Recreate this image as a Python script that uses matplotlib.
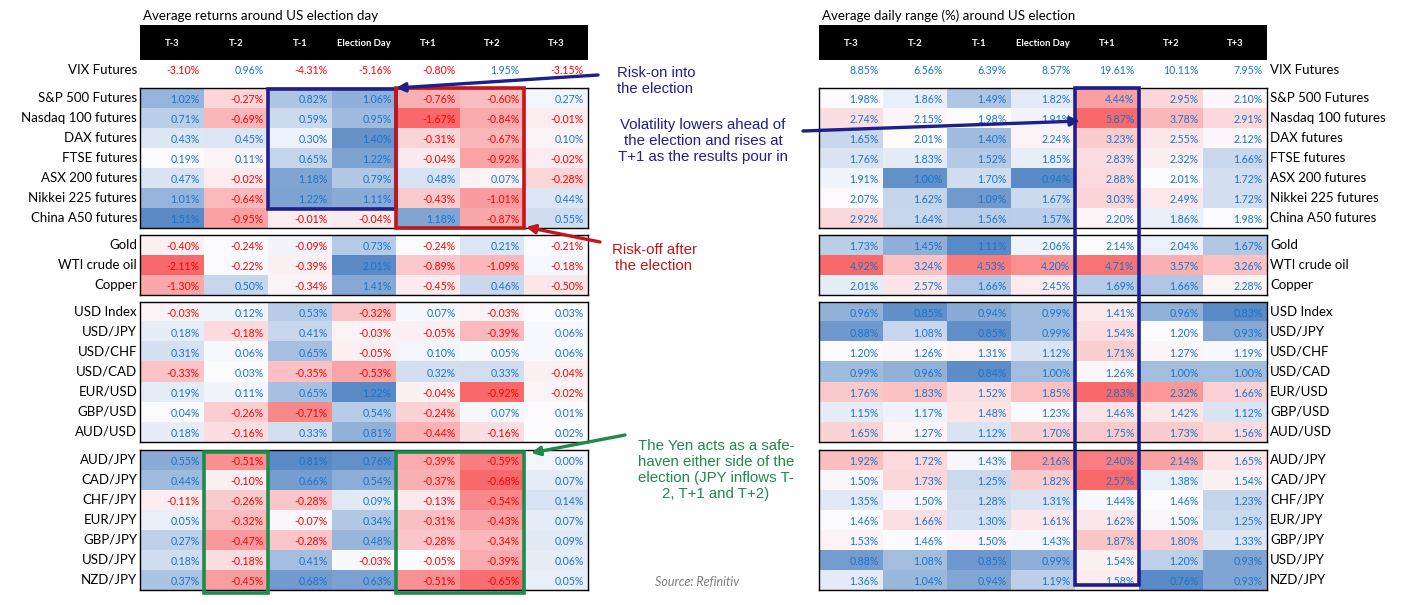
import numpy as np
import matplotlib
matplotlib.use("Agg")
import matplotlib.pyplot as plt
from matplotlib.colors import LinearSegmentedColormap, TwoSlopeNorm
from matplotlib.patches import Rectangle

# ---------------- data ----------------
periods = ["T-3", "T-2", "T-1", "Election Day", "T+1", "T+2", "T+3"]

equity_labels = ["S&P 500 Futures", "Nasdaq 100 futures", "DAX futures", "FTSE futures",
                 "ASX 200 futures", "Nikkei 225 futures", "China A50 futures"]
commod_labels = ["Gold", "WTI crude oil", "Copper"]
usd_labels = ["USD Index", "USD/JPY", "USD/CHF", "USD/CAD", "EUR/USD", "GBP/USD", "AUD/USD"]
jpy_labels = ["AUD/JPY", "CAD/JPY", "CHF/JPY", "EUR/JPY", "GBP/JPY", "USD/JPY", "NZD/JPY"]

ret_vix = [-3.10, 0.96, -4.31, -5.16, -0.80, 1.95, -3.15]
ret_equity = [[1.02, -0.27, 0.82, 1.06, -0.76, -0.60, 0.27],
              [0.71, -0.69, 0.59, 0.95, -1.67, -0.84, -0.01],
              [0.43, 0.45, 0.30, 1.40, -0.31, -0.67, 0.10],
              [0.19, 0.11, 0.65, 1.22, -0.04, -0.92, -0.02],
              [0.47, -0.02, 1.18, 0.79, 0.48, 0.07, -0.28],
              [1.01, -0.64, 1.22, 1.11, -0.43, -1.01, 0.44],
              [1.51, -0.95, -0.01, -0.04, 1.18, -0.87, 0.55]]
ret_commod = [[-0.40, -0.24, -0.09, 0.73, -0.24, 0.21, -0.21],
              [-2.11, -0.22, -0.39, 2.01, -0.89, -1.09, -0.18],
              [-1.30, 0.50, -0.34, 1.41, -0.45, 0.46, -0.50]]
ret_usd = [[-0.03, 0.12, 0.53, -0.32, 0.07, -0.03, 0.03],
           [0.18, -0.18, 0.41, -0.03, -0.05, -0.39, 0.06],
           [0.31, 0.06, 0.65, -0.05, 0.10, 0.05, 0.06],
           [-0.33, 0.03, -0.35, -0.53, 0.32, 0.33, -0.04],
           [0.19, 0.11, 0.65, 1.22, -0.04, -0.92, -0.02],
           [0.04, -0.26, -0.71, 0.54, -0.24, 0.07, 0.01],
           [0.18, -0.16, 0.33, 0.81, -0.44, -0.16, 0.02]]
ret_jpy = [[0.55, -0.51, 0.81, 0.76, -0.39, -0.59, 0.00],
           [0.44, -0.10, 0.66, 0.54, -0.37, -0.68, 0.07],
           [-0.11, -0.26, -0.28, 0.09, -0.13, -0.54, 0.14],
           [0.05, -0.32, -0.07, 0.34, -0.31, -0.43, 0.07],
           [0.27, -0.47, -0.28, 0.48, -0.28, -0.34, 0.09],
           [0.18, -0.18, 0.41, -0.03, -0.05, -0.39, 0.06],
           [0.37, -0.45, 0.68, 0.63, -0.51, -0.65, 0.05]]

rng_vix = [8.85, 6.56, 6.39, 8.57, 19.61, 10.11, 7.95]
rng_equity = [[1.98, 1.86, 1.49, 1.82, 4.44, 2.95, 2.10],
              [2.74, 2.15, 1.98, 1.91, 5.87, 3.78, 2.91],
              [1.65, 2.01, 1.40, 2.24, 3.23, 2.55, 2.12],
              [1.76, 1.83, 1.52, 1.85, 2.83, 2.32, 1.66],
              [1.91, 1.00, 1.70, 0.94, 2.88, 2.01, 1.72],
              [2.07, 1.62, 1.09, 1.67, 3.03, 2.49, 1.72],
              [2.92, 1.64, 1.56, 1.57, 2.20, 1.86, 1.98]]
rng_commod = [[1.73, 1.45, 1.11, 2.06, 2.14, 2.04, 1.67],
              [4.92, 3.24, 4.53, 4.20, 4.71, 3.57, 3.26],
              [2.01, 2.57, 1.66, 2.45, 1.69, 1.66, 2.28]]
rng_usd = [[0.96, 0.85, 0.94, 0.99, 1.41, 0.96, 0.83],
           [0.88, 1.08, 0.85, 0.99, 1.54, 1.20, 0.93],
           [1.20, 1.26, 1.31, 1.12, 1.71, 1.27, 1.19],
           [0.99, 0.96, 0.84, 1.00, 1.26, 1.00, 1.00],
           [1.76, 1.83, 1.52, 1.85, 2.83, 2.32, 1.66],
           [1.15, 1.17, 1.48, 1.23, 1.46, 1.42, 1.12],
           [1.65, 1.27, 1.12, 1.70, 1.75, 1.73, 1.56]]
rng_jpy = [[1.92, 1.72, 1.43, 2.16, 2.40, 2.14, 1.65],
           [1.50, 1.73, 1.25, 1.82, 2.57, 1.38, 1.54],
           [1.35, 1.50, 1.28, 1.31, 1.44, 1.46, 1.23],
           [1.46, 1.66, 1.30, 1.61, 1.62, 1.50, 1.25],
           [1.53, 1.46, 1.50, 1.43, 1.87, 1.80, 1.33],
           [0.88, 1.08, 0.85, 0.99, 1.54, 1.20, 0.93],
           [1.36, 1.04, 0.94, 1.19, 1.58, 0.76, 0.93]]

# ---------------- layout / style ----------------
W, H = 1413, 605
COL_W, ROW_H = 64, 20
LEFT_X0, RIGHT_X0 = 140, 819
HEAD_TOP, HEAD_BOT = 25, 60
VIX_Y = 70
BLOCK_TOPS = [88, 235, 302, 450]

RED, WHITE, BLUE = "#F8696B", "#FCFCFF", "#5A8AC6"
cmap_ret = LinearSegmentedColormap.from_list("ret", [RED, WHITE, BLUE])
cmap_rng = LinearSegmentedColormap.from_list("rng", [BLUE, WHITE, RED])
TXT_RED, TXT_BLUE = "#FF0000", "#1874CD"
NAVY, DRED, GREEN = "#1E1E8C", "#C0161C", "#1F8A4C"
FONT = "Lato"
ARIAL = "Liberation Sans"
LAB_FS, VAL_FS = 9.5, 7.6

fig = plt.figure(figsize=(W / 100, H / 100), dpi=100)
fig.patch.set_facecolor("white")


def px_axes(x0, top, w, h, z=1):
    return fig.add_axes([x0 / W, 1 - (top + h) / H, w / W, h / H], zorder=z)


def draw_block(x0, top, values, cmap, signed):
    vals = np.array(values, dtype=float)
    ax = px_axes(x0, top, 7 * COL_W, vals.shape[0] * ROW_H)
    med = float(np.median(vals))
    norm = TwoSlopeNorm(vcenter=med, vmin=vals.min(), vmax=vals.max())
    ax.imshow(vals, cmap=cmap, norm=norm, aspect="auto", interpolation="nearest")
    for i in range(vals.shape[0]):
        for j in range(vals.shape[1]):
            v = vals[i, j]
            c = (TXT_RED if v < 0 else TXT_BLUE) if signed else TXT_BLUE
            ax.text(j + 0.43, i + 0.06, f"{v:.2f}%", ha="right", va="center",
                    color=c, fontsize=VAL_FS, family=FONT)
    ax.set_xticks([]); ax.set_yticks([])
    for s in ax.spines.values():
        s.set_linewidth(1.0); s.set_color("black")
    return ax


# overlay (pixel coordinates) for labels, headers and annotations
ov = px_axes(0, 0, W, H, z=5)
ov.set_xlim(0, W); ov.set_ylim(H, 0); ov.axis("off"); ov.patch.set_alpha(0)

tables = [
    (LEFT_X0, [ret_equity, ret_commod, ret_usd, ret_jpy], ret_vix, cmap_ret, True,
     "Average returns around US election day"),
    (RIGHT_X0, [rng_equity, rng_commod, rng_usd, rng_jpy], rng_vix, cmap_rng, False,
     "Average daily range (%) around US election"),
]
label_sets = [equity_labels, commod_labels, usd_labels, jpy_labels]

for ti, (x0, blocks, vix, cmap, signed, title) in enumerate(tables):
    ov.text(x0 + 3, 16, title, ha="left", va="center", fontsize=9.6, family=FONT)
    ov.add_patch(Rectangle((x0, HEAD_TOP), 7 * COL_W, HEAD_BOT - HEAD_TOP,
                           facecolor="black", edgecolor="none"))
    for j, p in enumerate(periods):
        ov.text(x0 + (j + 0.5) * COL_W, (HEAD_TOP + HEAD_BOT) / 2 + 0.5, p, ha="center",
                va="center", color="white", fontsize=6.8, fontweight="bold", family=FONT)
        v = vix[j]
        c = (TXT_RED if v < 0 else TXT_BLUE) if signed else TXT_BLUE
        ov.text(x0 + (j + 1) * COL_W - 4.5, VIX_Y + 1, f"{v:.2f}%", ha="right", va="center",
                color=c, fontsize=VAL_FS, family=FONT)
    if ti == 0:
        ov.text(x0 - 3, VIX_Y, "VIX Futures", ha="right", va="center", fontsize=LAB_FS, family=FONT)
    else:
        ov.text(x0 + 7 * COL_W + 3, VIX_Y, "VIX Futures", ha="left", va="center",
                fontsize=LAB_FS, family=FONT)
    for top, vals, labs in zip(BLOCK_TOPS, blocks, label_sets):
        draw_block(x0, top, vals, cmap, signed)
        for i, lab in enumerate(labs):
            y = top + (i + 0.5) * ROW_H
            if ti == 0:
                ov.text(x0 - 3, y, lab, ha="right", va="center", fontsize=LAB_FS, family=FONT)
            else:
                ov.text(x0 + 7 * COL_W + 3, y, lab, ha="left", va="center",
                        fontsize=LAB_FS, family=FONT)


def box(x0, col0, ncol, top, bottom, color):
    ov.add_patch(Rectangle((x0 + col0 * COL_W, top), ncol * COL_W, bottom - top,
                           fill=False, edgecolor=color, linewidth=2.6, zorder=6))


# highlight boxes
box(LEFT_X0, 2, 2, BLOCK_TOPS[0] + 1, BLOCK_TOPS[0] + 6 * ROW_H + 1, NAVY)
box(LEFT_X0, 4, 2, BLOCK_TOPS[0], BLOCK_TOPS[0] + 7 * ROW_H, DRED)
box(LEFT_X0, 1, 1, BLOCK_TOPS[3] + 2, BLOCK_TOPS[3] + 7 * ROW_H + 3, GREEN)
box(LEFT_X0, 4, 2, BLOCK_TOPS[3] + 2, BLOCK_TOPS[3] + 7 * ROW_H + 3, GREEN)
box(RIGHT_X0, 4, 1, BLOCK_TOPS[0], BLOCK_TOPS[3] + 7 * ROW_H - 5, NAVY)


def arrow(xy_from, xy_to, color):
    ov.annotate("", xy=xy_to, xytext=xy_from,
                arrowprops=dict(arrowstyle="-|>", color=color, lw=2.4,
                                mutation_scale=13, shrinkA=0, shrinkB=0), zorder=7)


arrow((598, 75), (396, 88), NAVY)
arrow((803, 131), (1080, 121), NAVY)
arrow((600, 242), (526, 227), DRED)
arrow((625, 435), (531, 453), GREEN)

ov.text(617, 81, "Risk-on into\nthe election", ha="left", va="center", color=NAVY,
        fontsize=10.6, family=ARIAL, linespacing=1.2)
ov.text(703, 141, "Volatility lowers ahead of\nthe election and rises at\nT+1 as the results pour in",
        ha="center", va="center", color=NAVY, fontsize=10.8, family=ARIAL, linespacing=1.2)
ov.text(654, 258, "Risk-off after\nthe election", ha="center", va="center", color=DRED,
        fontsize=10.8, family=ARIAL, linespacing=1.2)
ov.text(716, 470, "The Yen acts as a safe-\nhaven either side of the\nelection (JPY inflows T-\n2, T+1 and T+2)",
        ha="center", va="center", color=GREEN, fontsize=10.8, family=ARIAL, linespacing=1.2)
ov.text(655, 582, "Source: Refinitiv", ha="left", va="center", color="#7F7F7F",
        fontsize=9, style="italic", family=FONT)

fig.savefig("out.png", dpi=100, facecolor="white")
